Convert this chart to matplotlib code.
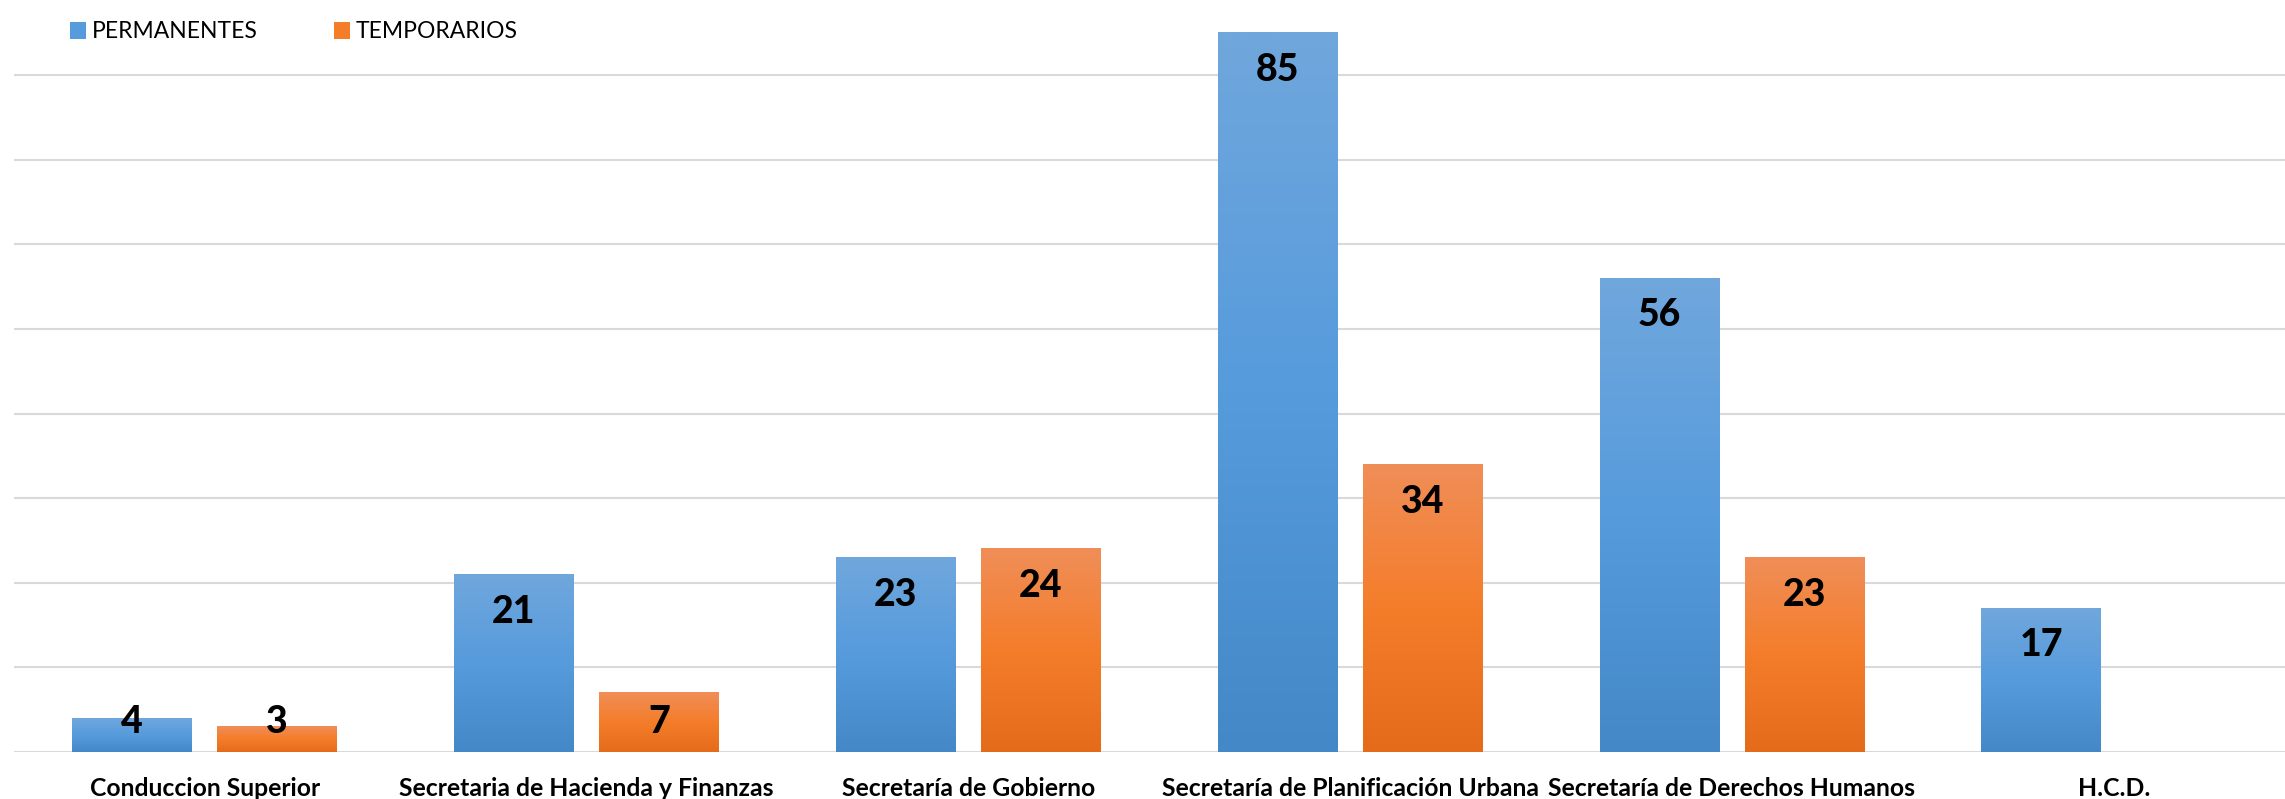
import numpy as np
import matplotlib
matplotlib.use("Agg")
import matplotlib.pyplot as plt
from matplotlib.patches import Patch

categories = ["Conduccion Superior", "Secretaria de Hacienda y Finanzas", "Secretaría de Gobierno",
              "Secretaría de Planificación Urbana", "Secretaría de Derechos Humanos", "H.C.D."]
permanentes = [4, 21, 23, 85, 56, 17]
temporarios = [3, 7, 24, 34, 23, np.nan]
series_names = ["PERMANENTES", "TEMPORARIOS"]

blue_grad = [(112/255, 167/255, 221/255), (86/255, 155/255, 220/255), (68/255, 136/255, 199/255)]
orange_grad = [(240/255, 142/255, 88/255), (244/255, 125/255, 42/255), (228/255, 107/255, 26/255)]

plt.rcParams['font.family'] = ['Lato', 'DejaVu Sans']

W, H = 2285, 799
fig = plt.figure(figsize=(W/100, H/100), dpi=100)
left = 13.8 / W
bottom = 47 / H
ax = fig.add_axes([left, bottom, 1 - left, 1 - bottom])

ymax = 752 / 8.46
xmax = -0.5 + (W - 13.8) / 381.8

x = np.arange(len(categories))
bw = 0.313
off = 0.19


def grad_image(stops, n=256):
    stops = np.array(stops)
    t = np.linspace(0, 1, n)
    pos = np.linspace(0, 1, len(stops))
    img = np.zeros((n, 1, 3))
    for c in range(3):
        img[:, 0, c] = np.interp(t, pos, stops[:, c])
    return img


for vals, sx, stops in [(permanentes, -off, blue_grad), (temporarios, off, orange_grad)]:
    bars = ax.bar(x + sx, np.nan_to_num(vals), width=bw, facecolor='none', edgecolor='none', zorder=2)
    img = grad_image(stops)
    for b, v in zip(bars, vals):
        if np.isnan(v) or v == 0:
            continue
        x0, w, h = b.get_x(), b.get_width(), b.get_height()
        ax.imshow(img, extent=[x0, x0 + w, 0, h], aspect='auto', origin='upper',
                  interpolation='bilinear', zorder=2)
        ly = max(v - 4.4, 3.6)
        ax.text(x0 + w / 2, ly, f"{int(v)}", ha='center', va='center',
                fontsize=27, fontweight='black', color='black', zorder=3)

ax.set_xlim(-0.5, xmax)
ax.set_ylim(0, ymax)
ax.set_yticks(np.arange(0, 81, 10))
ax.yaxis.grid(True, color='#D9D9D9', linewidth=1.5, zorder=0)
ax.set_axisbelow(True)
ax.tick_params(axis='y', left=False, labelleft=False)
ax.set_xticks(x)
ax.set_xticklabels(categories, fontsize=17.8, fontweight='bold')
ax.tick_params(axis='x', length=0, pad=18)
for s in ax.spines.values():
    s.set_visible(False)

handles = [Patch(facecolor=blue_grad[1]), Patch(facecolor=orange_grad[1])]
fig.legend(handles, series_names, loc='center left', bbox_to_anchor=(70 / W, 1 - 32 / H),
           ncol=2, frameon=False, fontsize=16.5, handlelength=0.7, handleheight=0.7,
           handletextpad=0.26, columnspacing=3.3, borderaxespad=0, borderpad=0)

fig.savefig("out.png", dpi=100)
